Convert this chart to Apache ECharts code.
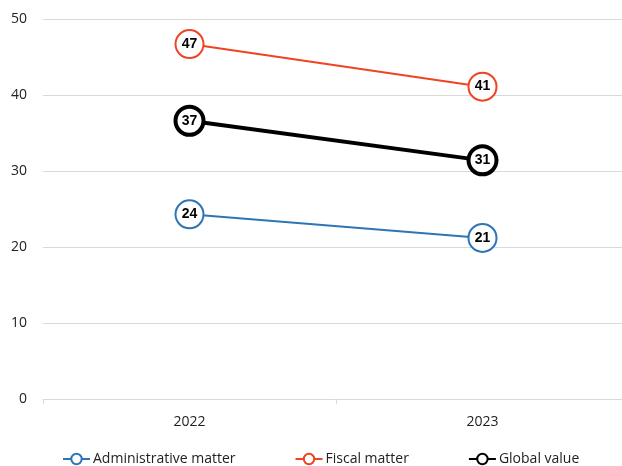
<!DOCTYPE html>
<html><head><meta charset="utf-8">
<script src="https://cdn.jsdelivr.net/npm/echarts@6/dist/echarts.min.js"></script>
<style>html,body{margin:0;padding:0;background:#fff}#c{width:622px;height:466px}</style>
</head><body><div id="c"></div>
<script>
const categories = ["2022", "2023"];
const adminValues = [24.3, 21.2];
const fiscalValues = [46.7, 41.1];
const globalValues = [36.6, 31.4];
const yTicks = [0, 10, 20, 30, 40, 50];

const FONT = "Open Sans";
function mk(name, data, color, lw, bw) {
  return {
    name, type: 'line', data,
    symbol: 'circle', symbolSize: 28,
    lineStyle: { color, width: lw },
    itemStyle: { color: '#fff', borderColor: color, borderWidth: bw },
    label: { show: true, position: 'inside', formatter: p => Math.round(p.value),
      color: '#000', fontWeight: 'bold', fontSize: 14, fontFamily: "Liberation Sans" },
    emphasis: { disabled: true },
    animation: false, z: 3
  };
}
const chart = echarts.init(document.getElementById('c'), null, { renderer: 'canvas' });
chart.setOption({
  animation: false,
  grid: { left: 43, top: 19, width: 586, height: 380, containLabel: false, outerBoundsMode: 'none' },
  xAxis: {
    type: 'category', data: categories, boundaryGap: true,
    axisLine: { lineStyle: { color: '#d9d9d9', width: 1 } },
    axisTick: { show: true, length: 5, lineStyle: { color: '#d9d9d9' } },
    axisLabel: { color: '#222', fontSize: 14, fontFamily: FONT, margin: 16 }
  },
  yAxis: {
    type: 'value', min: yTicks[0], max: yTicks[yTicks.length - 1], interval: 10,
    axisLine: { show: false }, axisTick: { show: false },
    splitLine: { lineStyle: { color: '#d9d9d9', width: 1 } },
    axisLabel: { color: '#222', fontSize: 14, fontFamily: FONT, margin: 16 }
  },
  legend: {
    top: 447, left: 57, itemGap: 59, itemWidth: 27, itemHeight: 13,
    textStyle: { color: '#222', fontSize: 14, fontFamily: FONT, padding: [0, 0, 0, -2] },
    data: ['Administrative matter', 'Fiscal matter', 'Global value']
  },
  series: [
    mk('Administrative matter', adminValues, '#2e75b6', 2, 2),
    mk('Fiscal matter', fiscalValues, '#ee4422', 2, 2),
    mk('Global value', globalValues, '#000000', 4, 4)
  ]
});
</script></body></html>
